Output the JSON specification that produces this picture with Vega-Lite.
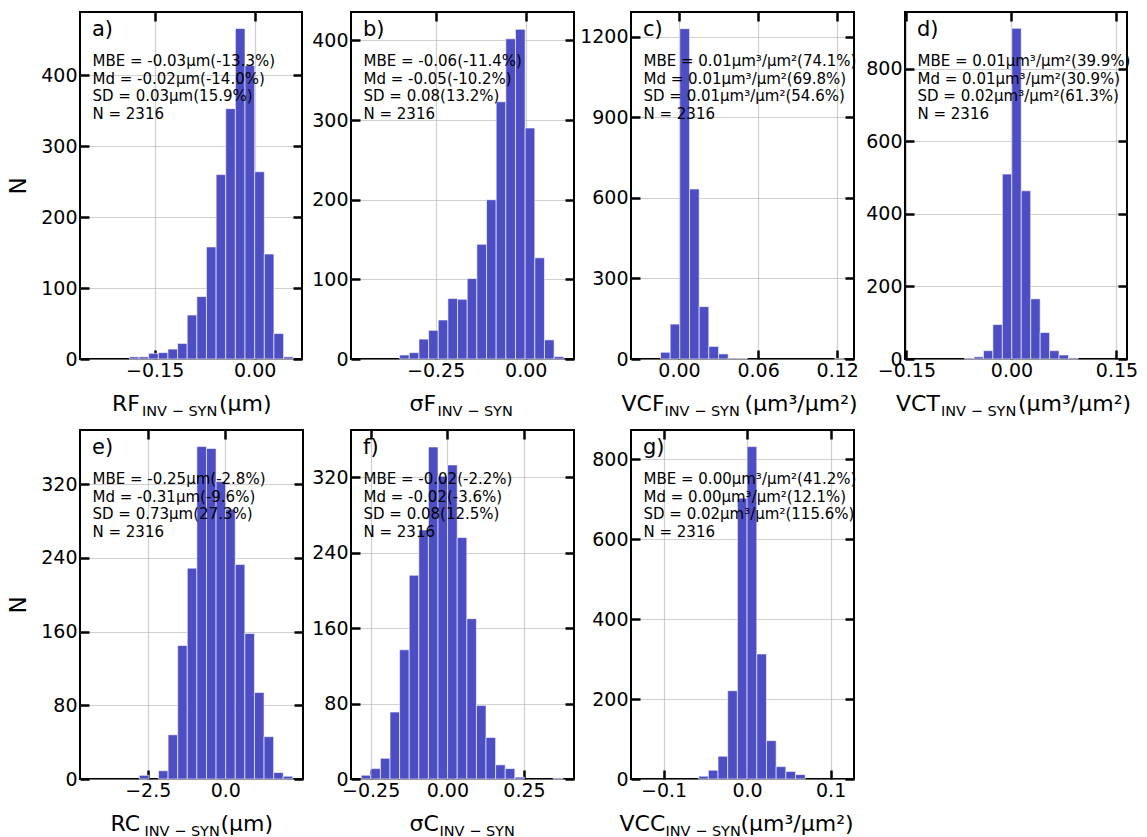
{
"$schema": "https://vega.github.io/schema/vega-lite/v6.json",
"background": "white",
"padding": {"left": 6, "top": 9, "right": 5, "bottom": 5},
"config": {
  "font": "DejaVu Sans",
  "view": {"stroke": "black", "strokeWidth": 2},
  "axis": {"domain": false, "tickColor": "black", "tickWidth": 2.5, "tickSize": -9, "labelFont": "DejaVu Sans", "labelFontSize": 19, "labelColor": "black", "labelOverlap": false, "labelFlush": false, "titleFont": "DejaVu Sans", "titleFontSize": 23, "titleFontWeight": "normal", "titleColor": "black", "zindex": 1, "gridColor": "#b0b0b0", "gridOpacity": 0.6, "gridWidth": 1.2},
  "text": {"font": "DejaVu Sans", "color": "black"}
},
"datasets": {
"a": [
{"x0":-0.1879,"x1":-0.1734,"n":3},{"x0":-0.1734,"x1":-0.159,"n":3},{"x0":-0.159,"x1":-0.1445,"n":8},{"x0":-0.1445,"x1":-0.1301,"n":9},{"x0":-0.1301,"x1":-0.1156,"n":14},{"x0":-0.1156,"x1":-0.1012,"n":22},{"x0":-0.1012,"x1":-0.0867,"n":62},{"x0":-0.0867,"x1":-0.0723,"n":88},{"x0":-0.0723,"x1":-0.0578,"n":158},{"x0":-0.0578,"x1":-0.0434,"n":260},{"x0":-0.0434,"x1":-0.0289,"n":353},{"x0":-0.0289,"x1":-0.0145,"n":466},{"x0":-0.0145,"x1":0,"n":414},{"x0":0,"x1":0.0145,"n":264},{"x0":0.0145,"x1":0.0289,"n":148},{"x0":0.0289,"x1":0.0434,"n":36},{"x0":0.0434,"x1":0.0578,"n":3}
],
"b": [
{"x0":-0.35,"x1":-0.3232,"n":5},{"x0":-0.3232,"x1":-0.2964,"n":8},{"x0":-0.2964,"x1":-0.2696,"n":25},{"x0":-0.2696,"x1":-0.2428,"n":36},{"x0":-0.2428,"x1":-0.216,"n":49},{"x0":-0.216,"x1":-0.1892,"n":76},{"x0":-0.1892,"x1":-0.1624,"n":75},{"x0":-0.1624,"x1":-0.1356,"n":101},{"x0":-0.1356,"x1":-0.1088,"n":144},{"x0":-0.1088,"x1":-0.082,"n":200},{"x0":-0.082,"x1":-0.0552,"n":323},{"x0":-0.0552,"x1":-0.0284,"n":402},{"x0":-0.0284,"x1":-0.0016,"n":414},{"x0":-0.0016,"x1":0.0252,"n":290},{"x0":0.0252,"x1":0.052,"n":127},{"x0":0.052,"x1":0.0788,"n":24},{"x0":0.0788,"x1":0.1056,"n":3}
],
"c": [
{"x0":-0.014,"x1":-0.0067,"n":25},{"x0":-0.0067,"x1":0.0006,"n":130},{"x0":0.0006,"x1":0.008,"n":1230},{"x0":0.008,"x1":0.0153,"n":633},{"x0":0.0153,"x1":0.0226,"n":195},{"x0":0.0226,"x1":0.03,"n":47},{"x0":0.03,"x1":0.0373,"n":19},{"x0":0.0373,"x1":0.0446,"n":3},{"x0":0.0446,"x1":0.0519,"n":2},{"x0":0.1179,"x1":0.1252,"n":1}
],
"d": [
{"x0":-0.067,"x1":-0.0535,"n":2},{"x0":-0.0535,"x1":-0.04,"n":6},{"x0":-0.04,"x1":-0.0265,"n":23},{"x0":-0.0265,"x1":-0.013,"n":95},{"x0":-0.013,"x1":0.0005,"n":510},{"x0":0.0005,"x1":0.014,"n":912},{"x0":0.014,"x1":0.0275,"n":464},{"x0":0.0275,"x1":0.041,"n":166},{"x0":0.041,"x1":0.0545,"n":73},{"x0":0.0545,"x1":0.068,"n":23},{"x0":0.068,"x1":0.0815,"n":11},{"x0":0.0815,"x1":0.095,"n":3}
],
"e": [
{"x0":-2.771,"x1":-2.462,"n":4},{"x0":-2.153,"x1":-1.844,"n":9},{"x0":-1.844,"x1":-1.535,"n":48},{"x0":-1.535,"x1":-1.226,"n":145},{"x0":-1.226,"x1":-0.917,"n":229},{"x0":-0.917,"x1":-0.608,"n":361},{"x0":-0.608,"x1":-0.299,"n":359},{"x0":-0.299,"x1":0.01,"n":323},{"x0":0.01,"x1":0.319,"n":293},{"x0":0.319,"x1":0.628,"n":233},{"x0":0.628,"x1":0.937,"n":158},{"x0":0.937,"x1":1.246,"n":94},{"x0":1.246,"x1":1.555,"n":46},{"x0":1.555,"x1":1.864,"n":7},{"x0":1.864,"x1":2.173,"n":3}
],
"f": [
{"x0":-0.2807,"x1":-0.2494,"n":4},{"x0":-0.2494,"x1":-0.2181,"n":11},{"x0":-0.2181,"x1":-0.1868,"n":22},{"x0":-0.1868,"x1":-0.1555,"n":71},{"x0":-0.1555,"x1":-0.1242,"n":137},{"x0":-0.1242,"x1":-0.0929,"n":216},{"x0":-0.0929,"x1":-0.0616,"n":264},{"x0":-0.0616,"x1":-0.0303,"n":352},{"x0":-0.0303,"x1":0.001,"n":321},{"x0":0.001,"x1":0.0323,"n":333},{"x0":0.0323,"x1":0.0636,"n":256},{"x0":0.0636,"x1":0.0949,"n":170},{"x0":0.0949,"x1":0.1262,"n":78},{"x0":0.1262,"x1":0.1575,"n":44},{"x0":0.1575,"x1":0.1888,"n":15},{"x0":0.1888,"x1":0.2201,"n":11},{"x0":0.2201,"x1":0.2514,"n":2},{"x0":0.3453,"x1":0.3766,"n":1}
],
"g": [
{"x0":-0.058,"x1":-0.0464,"n":7},{"x0":-0.0464,"x1":-0.0348,"n":22},{"x0":-0.0348,"x1":-0.0232,"n":57},{"x0":-0.0232,"x1":-0.0116,"n":221},{"x0":-0.0116,"x1":0,"n":703},{"x0":0,"x1":0.0116,"n":832},{"x0":0.0116,"x1":0.0232,"n":313},{"x0":0.0232,"x1":0.0348,"n":96},{"x0":0.0348,"x1":0.0464,"n":31},{"x0":0.0464,"x1":0.058,"n":19},{"x0":0.058,"x1":0.0696,"n":11}
],
"notes": [
{"panel":"a","label":"a)","stats":"MBE = -0.03μm(-13.3%)\nMd = -0.02μm(-14.0%)\nSD = 0.03μm(15.9%)\nN = 2316","name":"RF","sub":"INV − SYN","unit":"(μm)"},
{"panel":"b","label":"b)","stats":"MBE = -0.06(-11.4%)\nMd = -0.05(-10.2%)\nSD = 0.08(13.2%)\nN = 2316","name":"σF","sub":"INV − SYN","unit":""},
{"panel":"c","label":"c)","stats":"MBE = 0.01μm³/μm²(74.1%)\nMd = 0.01μm³/μm²(69.8%)\nSD = 0.01μm³/μm²(54.6%)\nN = 2316","name":"VCF","sub":"INV − SYN","unit":"(μm³/μm²)"},
{"panel":"d","label":"d)","stats":"MBE = 0.01μm³/μm²(39.9%)\nMd = 0.01μm³/μm²(30.9%)\nSD = 0.02μm³/μm²(61.3%)\nN = 2316","name":"VCT","sub":"INV − SYN","unit":"(μm³/μm²)"},
{"panel":"e","label":"e)","stats":"MBE = -0.25μm(-2.8%)\nMd = -0.31μm(-9.6%)\nSD = 0.73μm(27.3%)\nN = 2316","name":"RC","sub":"INV − SYN","unit":"(μm)"},
{"panel":"f","label":"f)","stats":"MBE = -0.02(-2.2%)\nMd = -0.02(-3.6%)\nSD = 0.08(12.5%)\nN = 2316","name":"σC","sub":"INV − SYN","unit":""},
{"panel":"g","label":"g)","stats":"MBE = 0.00μm³/μm²(41.2%)\nMd = 0.00μm³/μm²(12.1%)\nSD = 0.02μm³/μm²(115.6%)\nN = 2316","name":"VCC","sub":"INV − SYN","unit":"(μm³/μm²)"}
]
},
"columns": 4,
"spacing": {"row": 7, "column": 0},
"concat": [
{
"width": 222, "height": 347,
"resolve": {"axis": {"x": "independent", "y": "independent"}},
"layer": [
{"data": {"name": "a"}, "mark": {"type": "bar", "color": "#4e4ec4", "stroke": "white", "strokeWidth": 1, "strokeOpacity": 0.6},
 "encoding": {
  "x": {"field": "x0", "type": "quantitative", "scale": {"domain": [-0.262, 0.071], "nice": false, "zero": false}, "axis": {"orient": "bottom", "values": [-0.15, 0], "format": ".2f", "title": null, "grid": true, "labelPadding": 26, "labelBaseline": "alphabetic"}},
  "x2": {"field": "x1"},
  "y": {"field": "n", "type": "quantitative", "scale": {"domain": [0, 489.3], "nice": false, "zero": false}, "axis": {"orient": "left", "values": [0,100,200,300,400], "format": "d", "title": "N", "titlePadding": 10, "grid": true, "labelPadding": 12, "minExtent": 40, "maxExtent": 40}},
  "y2": {"datum": 0}}},
{"data": {"name": "a"}, "mark": {"type": "point", "opacity": 0},
 "encoding": {
  "x": {"field": "x0", "type": "quantitative", "scale": {"domain": [-0.262, 0.071], "nice": false, "zero": false}, "axis": {"orient": "top", "values": [-0.15, 0], "title": null, "labels": false, "grid": false, "minExtent": 0, "maxExtent": 0}},
  "y": {"field": "n", "type": "quantitative", "scale": {"domain": [0, 489.3], "nice": false, "zero": false}, "axis": {"orient": "right", "values": [0,100,200,300,400], "title": null, "labels": false, "grid": false, "minExtent": 0, "maxExtent": 0}}}},
{"data": {"name": "notes"}, "transform": [{"filter": "datum.panel == 'a'"}],
 "mark": {"type": "text", "align": "left", "baseline": "alphabetic", "fontSize": 21, "dx": 12, "dy": 24},
 "encoding": {"x": {"datum": -0.262, "type": "quantitative", "scale": {"domain": [-0.262, 0.071], "nice": false, "zero": false}, "axis": null}, "y": {"datum": 489.3, "type": "quantitative", "scale": {"domain": [0, 489.3], "nice": false, "zero": false}, "axis": null}, "text": {"field": "label"}}},
{"data": {"name": "notes"}, "transform": [{"filter": "datum.panel == 'a'"}],
 "mark": {"type": "text", "align": "left", "baseline": "alphabetic", "fontSize": 15, "dx": 12.5, "dy": 54, "lineBreak": "\n", "lineHeight": 17.5},
 "encoding": {"x": {"datum": -0.262, "type": "quantitative", "scale": {"domain": [-0.262, 0.071], "nice": false, "zero": false}, "axis": null}, "y": {"datum": 489.3, "type": "quantitative", "scale": {"domain": [0, 489.3], "nice": false, "zero": false}, "axis": null}, "text": {"field": "stats"}}},
{"data": {"name": "notes"}, "transform": [{"filter": "datum.panel == 'a'"}],
 "mark": {"type": "text", "align": "left", "baseline": "alphabetic", "fontSize": 22, "dx": -79, "dy": 52},
 "encoding": {"x": {"datum": -0.0955, "type": "quantitative", "scale": {"domain": [-0.262, 0.071], "nice": false, "zero": false}, "axis": null}, "y": {"datum": 0, "type": "quantitative", "scale": {"domain": [0, 489.3], "nice": false, "zero": false}, "axis": null}, "text": {"field": "name"}}},
{"data": {"name": "notes"}, "transform": [{"filter": "datum.panel == 'a'"}],
 "mark": {"type": "text", "align": "left", "baseline": "alphabetic", "fontSize": 14.5, "dx": -49, "dy": 57},
 "encoding": {"x": {"datum": -0.0955, "type": "quantitative", "scale": {"domain": [-0.262, 0.071], "nice": false, "zero": false}, "axis": null}, "y": {"datum": 0, "type": "quantitative", "scale": {"domain": [0, 489.3], "nice": false, "zero": false}, "axis": null}, "text": {"field": "sub"}}},
{"data": {"name": "notes"}, "transform": [{"filter": "datum.panel == 'a'"}],
 "mark": {"type": "text", "align": "left", "baseline": "alphabetic", "fontSize": 22, "dx": 28, "dy": 52},
 "encoding": {"x": {"datum": -0.0955, "type": "quantitative", "scale": {"domain": [-0.262, 0.071], "nice": false, "zero": false}, "axis": null}, "y": {"datum": 0, "type": "quantitative", "scale": {"domain": [0, 489.3], "nice": false, "zero": false}, "axis": null}, "text": {"field": "unit"}}}
]
},
{
"width": 223, "height": 347,
"resolve": {"axis": {"x": "independent", "y": "independent"}},
"layer": [
{"data": {"name": "b"}, "mark": {"type": "bar", "color": "#4e4ec4", "stroke": "white", "strokeWidth": 1, "strokeOpacity": 0.6},
 "encoding": {
  "x": {"field": "x0", "type": "quantitative", "scale": {"domain": [-0.485, 0.134], "nice": false, "zero": false}, "axis": {"orient": "bottom", "values": [-0.25, 0], "format": ".2f", "title": null, "grid": true, "labelPadding": 26, "labelBaseline": "alphabetic"}},
  "x2": {"field": "x1"},
  "y": {"field": "n", "type": "quantitative", "scale": {"domain": [0, 435.7], "nice": false, "zero": false}, "axis": {"orient": "left", "values": [0,100,200,300,400], "format": "d", "title": null, "grid": true, "labelPadding": 12, "minExtent": 43.5, "maxExtent": 43.5}},
  "y2": {"datum": 0}}},
{"data": {"name": "b"}, "mark": {"type": "point", "opacity": 0},
 "encoding": {
  "x": {"field": "x0", "type": "quantitative", "scale": {"domain": [-0.485, 0.134], "nice": false, "zero": false}, "axis": {"orient": "top", "values": [-0.25, 0], "title": null, "labels": false, "grid": false, "minExtent": 0, "maxExtent": 0}},
  "y": {"field": "n", "type": "quantitative", "scale": {"domain": [0, 435.7], "nice": false, "zero": false}, "axis": {"orient": "right", "values": [0,100,200,300,400], "title": null, "labels": false, "grid": false, "minExtent": 0, "maxExtent": 0}}}},
{"data": {"name": "notes"}, "transform": [{"filter": "datum.panel == 'b'"}],
 "mark": {"type": "text", "align": "left", "baseline": "alphabetic", "fontSize": 21, "dx": 12, "dy": 24},
 "encoding": {"x": {"datum": -0.485, "type": "quantitative", "scale": {"domain": [-0.485, 0.134], "nice": false, "zero": false}, "axis": null}, "y": {"datum": 435.7, "type": "quantitative", "scale": {"domain": [0, 435.7], "nice": false, "zero": false}, "axis": null}, "text": {"field": "label"}}},
{"data": {"name": "notes"}, "transform": [{"filter": "datum.panel == 'b'"}],
 "mark": {"type": "text", "align": "left", "baseline": "alphabetic", "fontSize": 15, "dx": 12.5, "dy": 54, "lineBreak": "\n", "lineHeight": 17.5},
 "encoding": {"x": {"datum": -0.485, "type": "quantitative", "scale": {"domain": [-0.485, 0.134], "nice": false, "zero": false}, "axis": null}, "y": {"datum": 435.7, "type": "quantitative", "scale": {"domain": [0, 435.7], "nice": false, "zero": false}, "axis": null}, "text": {"field": "stats"}}},
{"data": {"name": "notes"}, "transform": [{"filter": "datum.panel == 'b'"}],
 "mark": {"type": "text", "align": "left", "baseline": "alphabetic", "fontSize": 22, "dx": -53, "dy": 52},
 "encoding": {"x": {"datum": -0.1755, "type": "quantitative", "scale": {"domain": [-0.485, 0.134], "nice": false, "zero": false}, "axis": null}, "y": {"datum": 0, "type": "quantitative", "scale": {"domain": [0, 435.7], "nice": false, "zero": false}, "axis": null}, "text": {"field": "name"}}},
{"data": {"name": "notes"}, "transform": [{"filter": "datum.panel == 'b'"}],
 "mark": {"type": "text", "align": "left", "baseline": "alphabetic", "fontSize": 14.5, "dx": -25, "dy": 57},
 "encoding": {"x": {"datum": -0.1755, "type": "quantitative", "scale": {"domain": [-0.485, 0.134], "nice": false, "zero": false}, "axis": null}, "y": {"datum": 0, "type": "quantitative", "scale": {"domain": [0, 435.7], "nice": false, "zero": false}, "axis": null}, "text": {"field": "sub"}}}
]
},
{
"width": 223, "height": 347,
"resolve": {"axis": {"x": "independent", "y": "independent"}},
"layer": [
{"data": {"name": "c"}, "mark": {"type": "bar", "color": "#4e4ec4", "stroke": "white", "strokeWidth": 1, "strokeOpacity": 0.6},
 "encoding": {
  "x": {"field": "x0", "type": "quantitative", "scale": {"domain": [-0.0364, 0.1327], "nice": false, "zero": false}, "axis": {"orient": "bottom", "values": [0, 0.06, 0.12], "format": ".2f", "title": null, "grid": true, "labelPadding": 26, "labelBaseline": "alphabetic"}},
  "x2": {"field": "x1"},
  "y": {"field": "n", "type": "quantitative", "scale": {"domain": [0, 1292], "nice": false, "zero": false}, "axis": {"orient": "left", "values": [0,300,600,900,1200], "format": "d", "title": null, "grid": true, "labelPadding": 12, "minExtent": 52.5, "maxExtent": 52.5}},
  "y2": {"datum": 0}}},
{"data": {"name": "c"}, "mark": {"type": "point", "opacity": 0},
 "encoding": {
  "x": {"field": "x0", "type": "quantitative", "scale": {"domain": [-0.0364, 0.1327], "nice": false, "zero": false}, "axis": {"orient": "top", "values": [0, 0.06, 0.12], "title": null, "labels": false, "grid": false, "minExtent": 0, "maxExtent": 0}},
  "y": {"field": "n", "type": "quantitative", "scale": {"domain": [0, 1292], "nice": false, "zero": false}, "axis": {"orient": "right", "values": [0,300,600,900,1200], "title": null, "labels": false, "grid": false, "minExtent": 0, "maxExtent": 0}}}},
{"data": {"name": "notes"}, "transform": [{"filter": "datum.panel == 'c'"}],
 "mark": {"type": "text", "align": "left", "baseline": "alphabetic", "fontSize": 21, "dx": 12, "dy": 24},
 "encoding": {"x": {"datum": -0.0364, "type": "quantitative", "scale": {"domain": [-0.0364, 0.1327], "nice": false, "zero": false}, "axis": null}, "y": {"datum": 1292, "type": "quantitative", "scale": {"domain": [0, 1292], "nice": false, "zero": false}, "axis": null}, "text": {"field": "label"}}},
{"data": {"name": "notes"}, "transform": [{"filter": "datum.panel == 'c'"}],
 "mark": {"type": "text", "align": "left", "baseline": "alphabetic", "fontSize": 15, "dx": 12.5, "dy": 54, "lineBreak": "\n", "lineHeight": 17.5},
 "encoding": {"x": {"datum": -0.0364, "type": "quantitative", "scale": {"domain": [-0.0364, 0.1327], "nice": false, "zero": false}, "axis": null}, "y": {"datum": 1292, "type": "quantitative", "scale": {"domain": [0, 1292], "nice": false, "zero": false}, "axis": null}, "text": {"field": "stats"}}},
{"data": {"name": "notes"}, "transform": [{"filter": "datum.panel == 'c'"}],
 "mark": {"type": "text", "align": "left", "baseline": "alphabetic", "fontSize": 22, "dx": -121, "dy": 52},
 "encoding": {"x": {"datum": 0.04815, "type": "quantitative", "scale": {"domain": [-0.0364, 0.1327], "nice": false, "zero": false}, "axis": null}, "y": {"datum": 0, "type": "quantitative", "scale": {"domain": [0, 1292], "nice": false, "zero": false}, "axis": null}, "text": {"field": "name"}}},
{"data": {"name": "notes"}, "transform": [{"filter": "datum.panel == 'c'"}],
 "mark": {"type": "text", "align": "left", "baseline": "alphabetic", "fontSize": 14.5, "dx": -78, "dy": 57},
 "encoding": {"x": {"datum": 0.04815, "type": "quantitative", "scale": {"domain": [-0.0364, 0.1327], "nice": false, "zero": false}, "axis": null}, "y": {"datum": 0, "type": "quantitative", "scale": {"domain": [0, 1292], "nice": false, "zero": false}, "axis": null}, "text": {"field": "sub"}}},
{"data": {"name": "notes"}, "transform": [{"filter": "datum.panel == 'c'"}],
 "mark": {"type": "text", "align": "left", "baseline": "alphabetic", "fontSize": 22, "dx": 2, "dy": 52},
 "encoding": {"x": {"datum": 0.04815, "type": "quantitative", "scale": {"domain": [-0.0364, 0.1327], "nice": false, "zero": false}, "axis": null}, "y": {"datum": 0, "type": "quantitative", "scale": {"domain": [0, 1292], "nice": false, "zero": false}, "axis": null}, "text": {"field": "unit"}}}
]
},
{
"width": 222, "height": 347,
"resolve": {"axis": {"x": "independent", "y": "independent"}},
"layer": [
{"data": {"name": "d"}, "mark": {"type": "bar", "color": "#4e4ec4", "stroke": "white", "strokeWidth": 1, "strokeOpacity": 0.6},
 "encoding": {
  "x": {"field": "x0", "type": "quantitative", "scale": {"domain": [-0.152, 0.165], "nice": false, "zero": false}, "axis": {"orient": "bottom", "values": [-0.15, 0, 0.15], "format": ".2f", "title": null, "grid": true, "labelPadding": 26, "labelBaseline": "alphabetic"}},
  "x2": {"field": "x1"},
  "y": {"field": "n", "type": "quantitative", "scale": {"domain": [0, 957], "nice": false, "zero": false}, "axis": {"orient": "left", "values": [0,200,400,600,800], "format": "d", "title": null, "grid": true, "labelPadding": 12, "minExtent": 44, "maxExtent": 44}},
  "y2": {"datum": 0}}},
{"data": {"name": "d"}, "mark": {"type": "point", "opacity": 0},
 "encoding": {
  "x": {"field": "x0", "type": "quantitative", "scale": {"domain": [-0.152, 0.165], "nice": false, "zero": false}, "axis": {"orient": "top", "values": [-0.15, 0, 0.15], "title": null, "labels": false, "grid": false, "minExtent": 0, "maxExtent": 0}},
  "y": {"field": "n", "type": "quantitative", "scale": {"domain": [0, 957], "nice": false, "zero": false}, "axis": {"orient": "right", "values": [0,200,400,600,800], "title": null, "labels": false, "grid": false, "minExtent": 0, "maxExtent": 0}}}},
{"data": {"name": "notes"}, "transform": [{"filter": "datum.panel == 'd'"}],
 "mark": {"type": "text", "align": "left", "baseline": "alphabetic", "fontSize": 21, "dx": 12, "dy": 24},
 "encoding": {"x": {"datum": -0.152, "type": "quantitative", "scale": {"domain": [-0.152, 0.165], "nice": false, "zero": false}, "axis": null}, "y": {"datum": 957, "type": "quantitative", "scale": {"domain": [0, 957], "nice": false, "zero": false}, "axis": null}, "text": {"field": "label"}}},
{"data": {"name": "notes"}, "transform": [{"filter": "datum.panel == 'd'"}],
 "mark": {"type": "text", "align": "left", "baseline": "alphabetic", "fontSize": 15, "dx": 12.5, "dy": 54, "lineBreak": "\n", "lineHeight": 17.5},
 "encoding": {"x": {"datum": -0.152, "type": "quantitative", "scale": {"domain": [-0.152, 0.165], "nice": false, "zero": false}, "axis": null}, "y": {"datum": 957, "type": "quantitative", "scale": {"domain": [0, 957], "nice": false, "zero": false}, "axis": null}, "text": {"field": "stats"}}},
{"data": {"name": "notes"}, "transform": [{"filter": "datum.panel == 'd'"}],
 "mark": {"type": "text", "align": "left", "baseline": "alphabetic", "fontSize": 22, "dx": -120, "dy": 52},
 "encoding": {"x": {"datum": 0.0065, "type": "quantitative", "scale": {"domain": [-0.152, 0.165], "nice": false, "zero": false}, "axis": null}, "y": {"datum": 0, "type": "quantitative", "scale": {"domain": [0, 957], "nice": false, "zero": false}, "axis": null}, "text": {"field": "name"}}},
{"data": {"name": "notes"}, "transform": [{"filter": "datum.panel == 'd'"}],
 "mark": {"type": "text", "align": "left", "baseline": "alphabetic", "fontSize": 14.5, "dx": -75, "dy": 57},
 "encoding": {"x": {"datum": 0.0065, "type": "quantitative", "scale": {"domain": [-0.152, 0.165], "nice": false, "zero": false}, "axis": null}, "y": {"datum": 0, "type": "quantitative", "scale": {"domain": [0, 957], "nice": false, "zero": false}, "axis": null}, "text": {"field": "sub"}}},
{"data": {"name": "notes"}, "transform": [{"filter": "datum.panel == 'd'"}],
 "mark": {"type": "text", "align": "left", "baseline": "alphabetic", "fontSize": 22, "dx": 2, "dy": 52},
 "encoding": {"x": {"datum": 0.0065, "type": "quantitative", "scale": {"domain": [-0.152, 0.165], "nice": false, "zero": false}, "axis": null}, "y": {"datum": 0, "type": "quantitative", "scale": {"domain": [0, 957], "nice": false, "zero": false}, "axis": null}, "text": {"field": "unit"}}}
]
},
{
"width": 223, "height": 349,
"resolve": {"axis": {"x": "independent", "y": "independent"}},
"layer": [
{"data": {"name": "e"}, "mark": {"type": "bar", "color": "#4e4ec4", "stroke": "white", "strokeWidth": 1, "strokeOpacity": 0.6},
 "encoding": {
  "x": {"field": "x0", "type": "quantitative", "scale": {"domain": [-4.68, 2.5], "nice": false, "zero": false}, "axis": {"orient": "bottom", "values": [-2.5, 0], "format": ".1f", "title": null, "grid": true, "labelPadding": 26, "labelBaseline": "alphabetic"}},
  "x2": {"field": "x1"},
  "y": {"field": "n", "type": "quantitative", "scale": {"domain": [0, 379], "nice": false, "zero": false}, "axis": {"orient": "left", "values": [0,80,160,240,320], "format": "d", "title": "N", "titlePadding": 10, "grid": true, "labelPadding": 12, "minExtent": 40, "maxExtent": 40}},
  "y2": {"datum": 0}}},
{"data": {"name": "e"}, "mark": {"type": "point", "opacity": 0},
 "encoding": {
  "x": {"field": "x0", "type": "quantitative", "scale": {"domain": [-4.68, 2.5], "nice": false, "zero": false}, "axis": {"orient": "top", "values": [-2.5, 0], "title": null, "labels": false, "grid": false, "minExtent": 0, "maxExtent": 0}},
  "y": {"field": "n", "type": "quantitative", "scale": {"domain": [0, 379], "nice": false, "zero": false}, "axis": {"orient": "right", "values": [0,80,160,240,320], "title": null, "labels": false, "grid": false, "minExtent": 0, "maxExtent": 0}}}},
{"data": {"name": "notes"}, "transform": [{"filter": "datum.panel == 'e'"}],
 "mark": {"type": "text", "align": "left", "baseline": "alphabetic", "fontSize": 21, "dx": 12, "dy": 24},
 "encoding": {"x": {"datum": -4.68, "type": "quantitative", "scale": {"domain": [-4.68, 2.5], "nice": false, "zero": false}, "axis": null}, "y": {"datum": 379, "type": "quantitative", "scale": {"domain": [0, 379], "nice": false, "zero": false}, "axis": null}, "text": {"field": "label"}}},
{"data": {"name": "notes"}, "transform": [{"filter": "datum.panel == 'e'"}],
 "mark": {"type": "text", "align": "left", "baseline": "alphabetic", "fontSize": 15, "dx": 12.5, "dy": 54, "lineBreak": "\n", "lineHeight": 17.5},
 "encoding": {"x": {"datum": -4.68, "type": "quantitative", "scale": {"domain": [-4.68, 2.5], "nice": false, "zero": false}, "axis": null}, "y": {"datum": 379, "type": "quantitative", "scale": {"domain": [0, 379], "nice": false, "zero": false}, "axis": null}, "text": {"field": "stats"}}},
{"data": {"name": "notes"}, "transform": [{"filter": "datum.panel == 'e'"}],
 "mark": {"type": "text", "align": "left", "baseline": "alphabetic", "fontSize": 22, "dx": -81, "dy": 52},
 "encoding": {"x": {"datum": -1.09, "type": "quantitative", "scale": {"domain": [-4.68, 2.5], "nice": false, "zero": false}, "axis": null}, "y": {"datum": 0, "type": "quantitative", "scale": {"domain": [0, 379], "nice": false, "zero": false}, "axis": null}, "text": {"field": "name"}}},
{"data": {"name": "notes"}, "transform": [{"filter": "datum.panel == 'e'"}],
 "mark": {"type": "text", "align": "left", "baseline": "alphabetic", "fontSize": 14.5, "dx": -47, "dy": 57},
 "encoding": {"x": {"datum": -1.09, "type": "quantitative", "scale": {"domain": [-4.68, 2.5], "nice": false, "zero": false}, "axis": null}, "y": {"datum": 0, "type": "quantitative", "scale": {"domain": [0, 379], "nice": false, "zero": false}, "axis": null}, "text": {"field": "sub"}}},
{"data": {"name": "notes"}, "transform": [{"filter": "datum.panel == 'e'"}],
 "mark": {"type": "text", "align": "left", "baseline": "alphabetic", "fontSize": 22, "dx": 29, "dy": 52},
 "encoding": {"x": {"datum": -1.09, "type": "quantitative", "scale": {"domain": [-4.68, 2.5], "nice": false, "zero": false}, "axis": null}, "y": {"datum": 0, "type": "quantitative", "scale": {"domain": [0, 379], "nice": false, "zero": false}, "axis": null}, "text": {"field": "unit"}}}
]
},
{
"width": 223, "height": 349,
"resolve": {"axis": {"x": "independent", "y": "independent"}},
"layer": [
{"data": {"name": "f"}, "mark": {"type": "bar", "color": "#4e4ec4", "stroke": "white", "strokeWidth": 1, "strokeOpacity": 0.6},
 "encoding": {
  "x": {"field": "x0", "type": "quantitative", "scale": {"domain": [-0.314, 0.413], "nice": false, "zero": false}, "axis": {"orient": "bottom", "values": [-0.25, 0, 0.25], "format": ".2f", "title": null, "grid": true, "labelPadding": 26, "labelBaseline": "alphabetic"}},
  "x2": {"field": "x1"},
  "y": {"field": "n", "type": "quantitative", "scale": {"domain": [0, 370], "nice": false, "zero": false}, "axis": {"orient": "left", "values": [0,80,160,240,320], "format": "d", "title": null, "grid": true, "labelPadding": 12, "minExtent": 43.5, "maxExtent": 43.5}},
  "y2": {"datum": 0}}},
{"data": {"name": "f"}, "mark": {"type": "point", "opacity": 0},
 "encoding": {
  "x": {"field": "x0", "type": "quantitative", "scale": {"domain": [-0.314, 0.413], "nice": false, "zero": false}, "axis": {"orient": "top", "values": [-0.25, 0, 0.25], "title": null, "labels": false, "grid": false, "minExtent": 0, "maxExtent": 0}},
  "y": {"field": "n", "type": "quantitative", "scale": {"domain": [0, 370], "nice": false, "zero": false}, "axis": {"orient": "right", "values": [0,80,160,240,320], "title": null, "labels": false, "grid": false, "minExtent": 0, "maxExtent": 0}}}},
{"data": {"name": "notes"}, "transform": [{"filter": "datum.panel == 'f'"}],
 "mark": {"type": "text", "align": "left", "baseline": "alphabetic", "fontSize": 21, "dx": 12, "dy": 24},
 "encoding": {"x": {"datum": -0.314, "type": "quantitative", "scale": {"domain": [-0.314, 0.413], "nice": false, "zero": false}, "axis": null}, "y": {"datum": 370, "type": "quantitative", "scale": {"domain": [0, 370], "nice": false, "zero": false}, "axis": null}, "text": {"field": "label"}}},
{"data": {"name": "notes"}, "transform": [{"filter": "datum.panel == 'f'"}],
 "mark": {"type": "text", "align": "left", "baseline": "alphabetic", "fontSize": 15, "dx": 12.5, "dy": 54, "lineBreak": "\n", "lineHeight": 17.5},
 "encoding": {"x": {"datum": -0.314, "type": "quantitative", "scale": {"domain": [-0.314, 0.413], "nice": false, "zero": false}, "axis": null}, "y": {"datum": 370, "type": "quantitative", "scale": {"domain": [0, 370], "nice": false, "zero": false}, "axis": null}, "text": {"field": "stats"}}},
{"data": {"name": "notes"}, "transform": [{"filter": "datum.panel == 'f'"}],
 "mark": {"type": "text", "align": "left", "baseline": "alphabetic", "fontSize": 22, "dx": -53, "dy": 52},
 "encoding": {"x": {"datum": 0.0495, "type": "quantitative", "scale": {"domain": [-0.314, 0.413], "nice": false, "zero": false}, "axis": null}, "y": {"datum": 0, "type": "quantitative", "scale": {"domain": [0, 370], "nice": false, "zero": false}, "axis": null}, "text": {"field": "name"}}},
{"data": {"name": "notes"}, "transform": [{"filter": "datum.panel == 'f'"}],
 "mark": {"type": "text", "align": "left", "baseline": "alphabetic", "fontSize": 14.5, "dx": -23, "dy": 57},
 "encoding": {"x": {"datum": 0.0495, "type": "quantitative", "scale": {"domain": [-0.314, 0.413], "nice": false, "zero": false}, "axis": null}, "y": {"datum": 0, "type": "quantitative", "scale": {"domain": [0, 370], "nice": false, "zero": false}, "axis": null}, "text": {"field": "sub"}}}
]
},
{
"width": 223, "height": 349,
"resolve": {"axis": {"x": "independent", "y": "independent"}},
"layer": [
{"data": {"name": "g"}, "mark": {"type": "bar", "color": "#4e4ec4", "stroke": "white", "strokeWidth": 1, "strokeOpacity": 0.6},
 "encoding": {
  "x": {"field": "x0", "type": "quantitative", "scale": {"domain": [-0.139, 0.128], "nice": false, "zero": false}, "axis": {"orient": "bottom", "values": [-0.1, 0, 0.1], "format": ".1f", "title": null, "grid": true, "labelPadding": 26, "labelBaseline": "alphabetic"}},
  "x2": {"field": "x1"},
  "y": {"field": "n", "type": "quantitative", "scale": {"domain": [0, 873.6], "nice": false, "zero": false}, "axis": {"orient": "left", "values": [0,200,400,600,800], "format": "d", "title": null, "grid": true, "labelPadding": 12, "minExtent": 52.5, "maxExtent": 52.5}},
  "y2": {"datum": 0}}},
{"data": {"name": "g"}, "mark": {"type": "point", "opacity": 0},
 "encoding": {
  "x": {"field": "x0", "type": "quantitative", "scale": {"domain": [-0.139, 0.128], "nice": false, "zero": false}, "axis": {"orient": "top", "values": [-0.1, 0, 0.1], "title": null, "labels": false, "grid": false, "minExtent": 0, "maxExtent": 0}},
  "y": {"field": "n", "type": "quantitative", "scale": {"domain": [0, 873.6], "nice": false, "zero": false}, "axis": {"orient": "right", "values": [0,200,400,600,800], "title": null, "labels": false, "grid": false, "minExtent": 0, "maxExtent": 0}}}},
{"data": {"name": "notes"}, "transform": [{"filter": "datum.panel == 'g'"}],
 "mark": {"type": "text", "align": "left", "baseline": "alphabetic", "fontSize": 21, "dx": 12, "dy": 24},
 "encoding": {"x": {"datum": -0.139, "type": "quantitative", "scale": {"domain": [-0.139, 0.128], "nice": false, "zero": false}, "axis": null}, "y": {"datum": 873.6, "type": "quantitative", "scale": {"domain": [0, 873.6], "nice": false, "zero": false}, "axis": null}, "text": {"field": "label"}}},
{"data": {"name": "notes"}, "transform": [{"filter": "datum.panel == 'g'"}],
 "mark": {"type": "text", "align": "left", "baseline": "alphabetic", "fontSize": 15, "dx": 12.5, "dy": 54, "lineBreak": "\n", "lineHeight": 17.5},
 "encoding": {"x": {"datum": -0.139, "type": "quantitative", "scale": {"domain": [-0.139, 0.128], "nice": false, "zero": false}, "axis": null}, "y": {"datum": 873.6, "type": "quantitative", "scale": {"domain": [0, 873.6], "nice": false, "zero": false}, "axis": null}, "text": {"field": "stats"}}},
{"data": {"name": "notes"}, "transform": [{"filter": "datum.panel == 'g'"}],
 "mark": {"type": "text", "align": "left", "baseline": "alphabetic", "fontSize": 22, "dx": -123, "dy": 52},
 "encoding": {"x": {"datum": -0.0055, "type": "quantitative", "scale": {"domain": [-0.139, 0.128], "nice": false, "zero": false}, "axis": null}, "y": {"datum": 0, "type": "quantitative", "scale": {"domain": [0, 873.6], "nice": false, "zero": false}, "axis": null}, "text": {"field": "name"}}},
{"data": {"name": "notes"}, "transform": [{"filter": "datum.panel == 'g'"}],
 "mark": {"type": "text", "align": "left", "baseline": "alphabetic", "fontSize": 14.5, "dx": -77, "dy": 57},
 "encoding": {"x": {"datum": -0.0055, "type": "quantitative", "scale": {"domain": [-0.139, 0.128], "nice": false, "zero": false}, "axis": null}, "y": {"datum": 0, "type": "quantitative", "scale": {"domain": [0, 873.6], "nice": false, "zero": false}, "axis": null}, "text": {"field": "sub"}}},
{"data": {"name": "notes"}, "transform": [{"filter": "datum.panel == 'g'"}],
 "mark": {"type": "text", "align": "left", "baseline": "alphabetic", "fontSize": 22, "dx": -2, "dy": 52},
 "encoding": {"x": {"datum": -0.0055, "type": "quantitative", "scale": {"domain": [-0.139, 0.128], "nice": false, "zero": false}, "axis": null}, "y": {"datum": 0, "type": "quantitative", "scale": {"domain": [0, 873.6], "nice": false, "zero": false}, "axis": null}, "text": {"field": "unit"}}}
]
}
]
}
